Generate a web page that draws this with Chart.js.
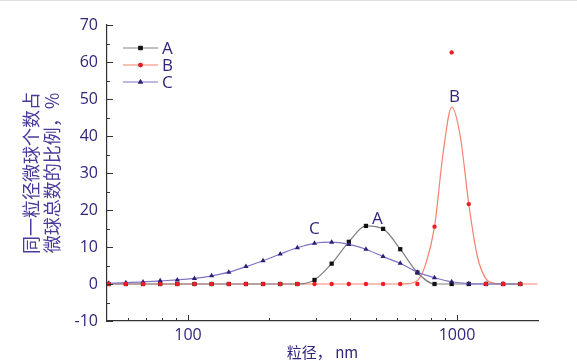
<!DOCTYPE html>
<html><head><meta charset="utf-8">
<script src="https://cdn.jsdelivr.net/npm/chart.js@4/dist/chart.umd.min.js"></script>
<style>html,body{margin:0;padding:0;background:#fff;}#wrap{width:577px;height:361px;}</style>
</head><body><div id="wrap"><canvas id="c" width="577" height="361"></canvas></div>
<script>
// particle size bins (nm)
const sizes = [50.75, 58.77, 68.06, 78.82, 91.28, 105.7, 122.4, 141.8, 164.2, 190.1, 220.2, 255.0, 295.3, 342.0, 396.1, 458.7, 531.2, 615.1, 712.4, 825.0, 955.4, 1106, 1281, 1484, 1718];
const seriesA = [0,0,0,0,0,0,0,0,0,0,0,0, 1.1, 5.5, 11.4, 15.7, 14.9, 9.4, 3.1, 0, 0, 0, 0, 0, 0];
const seriesB = [0,0,0,0,0,0,0,0,0,0,0,0,0,0,0,0,0,0,0, 15.5, 62.6, 21.6, 0, 0, 0];
const seriesC = [0.2, 0.35, 0.55, 0.85, 1.1, 1.5, 2.2, 3.2, 4.7, 6.3, 8.1, 9.8, 11.0, 11.3, 10.7, 9.4, 7.4, 5.6, 3.2, 1.7, 0.6, 0.1, 0, 0, 0];
// smooth fitted curve of B
const fitBX = [50.75, 68.06, 91.28, 122.4, 164.2, 220.2, 295.3, 396.1, 531.2, 615.1, 660, 712.4, 766, 825.0, 888, 955.4, 1028, 1106, 1190, 1281, 1379, 1484, 1718, 1990];
const fitBY = [0, 0, 0, 0, 0, 0, 0, 0, 0, 0, 0.1, 0.9, 5.5, 15.5, 35.4, 47.8, 40.0, 21.6, 7.5, 1.4, 0.2, 0, 0, 0];
const seriesNames = ['A', 'B', 'C'];
const xMajorTicks = [100, 1000];
const xMinorTicks = [60, 70, 80, 90, 200, 300, 400, 500, 600, 700, 800, 900];
const yMinorTicks = [-5, 5, 15, 25, 35, 45, 55, 65];

const TEXT = '#33247c';
const AXIS = '#333333';
const pts = (xs, ys) => xs.map((x, i) => ({x: x, y: ys[i]}));

const bgPlugin = {
  id: 'bg',
  beforeDraw(chart) {
    const ctx = chart.ctx;
    ctx.save();
    ctx.fillStyle = '#ffffff';
    ctx.fillRect(0, 0, chart.width, chart.height);
    ctx.fillStyle = '#dddddd';
    ctx.fillRect(0, 0, chart.width, 1);
    ctx.restore();
  }
};

const tickPlugin = {
  id: 'inTicks',
  afterDraw(chart) {
    const ctx = chart.ctx, xs = chart.scales.x, ys = chart.scales.y;
    const ca = chart.chartArea;
    ctx.save();
    ctx.strokeStyle = AXIS;
    ctx.lineWidth = 1;
    ctx.beginPath();
    ys.ticks.forEach(t => {
      const y = Math.round(ys.getPixelForValue(t.value)) + 0.5;
      ctx.moveTo(ca.left, y); ctx.lineTo(ca.left + 6, y);
    });
    yMinorTicks.forEach(v => {
      const y = Math.round(ys.getPixelForValue(v)) + 0.5;
      ctx.moveTo(ca.left, y); ctx.lineTo(ca.left + 3, y);
    });
    xMajorTicks.forEach(v => {
      const x = Math.round(xs.getPixelForValue(v)) + 0.5;
      ctx.moveTo(x, ca.bottom); ctx.lineTo(x, ca.bottom - 6);
    });
    xMinorTicks.forEach(v => {
      const x = Math.round(xs.getPixelForValue(v)) + 0.5;
      ctx.moveTo(x, ca.bottom); ctx.lineTo(x, ca.bottom - 3);
    });
    ctx.stroke();
    ctx.restore();
  }
};

const legendPlugin = {
  id: 'insideLegend',
  afterDatasetsDraw(chart) {
    const ctx = chart.ctx, ca = chart.chartArea;
    ctx.save();
    seriesNames.forEach((name, i) => {
      const ds = chart.data.datasets.find(d => d.label === name);
      const lineDs = name === 'B' ? chart.data.datasets.find(d => d.label === 'B fit') : ds;
      const y = ca.top + 23 + i * 17;
      const x0 = ca.left + 16, x1 = ca.left + 51;
      ctx.strokeStyle = lineDs.borderColor;
      ctx.lineWidth = 1.2;
      ctx.beginPath(); ctx.moveTo(x0, y); ctx.lineTo(x1, y); ctx.stroke();
      Chart.helpers.drawPoint(ctx, {pointStyle: ds.pointStyle, radius: ds.pointRadius, borderWidth: 0}, (x0 + x1) / 2, y);
      ctx.fillStyle = ds.pointBackgroundColor;
      ctx.fill();
      ctx.fillStyle = TEXT;
      ctx.font = '17px "Open Sans", sans-serif';
      ctx.textBaseline = 'middle';
      ctx.textAlign = 'left';
      ctx.fillText(name, x1 + 4, y + 1);
    });
    ctx.restore();
  }
};

const curveLabelPlugin = {
  id: 'curveLabels',
  afterDatasetsDraw(chart, args, opts) {
    const ctx = chart.ctx, xs = chart.scales.x, ys = chart.scales.y;
    ctx.save();
    ctx.fillStyle = TEXT;
    ctx.font = '17px "Open Sans", sans-serif';
    ctx.textAlign = 'center';
    ctx.textBaseline = 'middle';
    (opts.items || []).forEach(it => {
      ctx.fillText(it.text, xs.getPixelForValue(it.x), ys.getPixelForValue(it.y));
    });
    ctx.restore();
  }
};

new Chart(document.getElementById('c'), {
  type: 'scatter',
  data: {
    datasets: [
      {label: 'B', data: pts(sizes, seriesB), showLine: false, pointStyle: 'circle', pointRadius: 2.2,
       pointBackgroundColor: '#ee1d23', pointBorderWidth: 0, backgroundColor: '#ee1d23', borderColor: '#ee1d23'},
      {label: 'C', data: pts(sizes, seriesC), showLine: true, cubicInterpolationMode: 'monotone',
       borderColor: '#8074c4', borderWidth: 1.2, pointStyle: 'triangle', pointRadius: 3,
       pointBackgroundColor: '#2b1f78', pointBorderWidth: 0, backgroundColor: '#2b1f78'},
      {label: 'A', data: pts(sizes, seriesA), showLine: true, cubicInterpolationMode: 'monotone',
       borderColor: '#808080', borderWidth: 1.2, pointStyle: 'rect', pointRadius: 3,
       pointBackgroundColor: '#111111', pointBorderWidth: 0, backgroundColor: '#111111'},
      {label: 'B fit', data: pts(fitBX, fitBY), showLine: true, cubicInterpolationMode: 'monotone',
       borderColor: '#f5826e', borderWidth: 1.2, pointRadius: 0}
    ]
  },
  options: {
    responsive: false,
    animation: false,
    devicePixelRatio: 1,
    layout: {padding: {left: 0, top: 25, right: 39, bottom: 0}},
    plugins: {
      legend: {display: false},
      tooltip: {enabled: false},
      curveLabels: {items: [
        {text: 'C', x: 295, y: 14.8},
        {text: 'A', x: 506, y: 17.6},
        {text: 'B', x: 979, y: 50.6}
      ]}
    },
    scales: {
      x: {
        type: 'logarithmic', position: 'bottom', min: 50, max: 2000,
        grid: {display: false, drawTicks: false},
        border: {display: true, color: AXIS, width: 1.2},
        afterBuildTicks: s => { s.ticks = xMajorTicks.map(v => ({value: v})); },
        afterFit: s => { s.height = 40; },
        ticks: {color: TEXT, padding: 5, autoSkip: false, maxRotation: 0,
                font: {family: '"Open Sans", sans-serif', size: 16},
                callback: v => String(v)},
        title: {display: true, text: '粒径， nm', color: TEXT, padding: {top: 0, bottom: 0},
                font: {family: '"Noto Sans CJK SC", sans-serif', size: 15}}
      },
      y: {
        type: 'linear', position: 'left', min: -10, max: 70,
        grid: {display: false, drawTicks: false},
        border: {display: true, color: AXIS, width: 1.2},
        afterFit: s => { s.width = 107; },
        ticks: {color: TEXT, padding: 9, stepSize: 10,
                font: {family: '"Open Sans", sans-serif', size: 16}},
        title: {display: true, text: ['同一粒径微球个数占', '微球总数的比例，%'], color: '#4a3a9a',
                padding: {top: 20, bottom: 0},
                font: {family: '"Noto Sans CJK SC", sans-serif', size: 18, lineHeight: 1.2}}
      }
    }
  },
  plugins: [bgPlugin, tickPlugin, legendPlugin, curveLabelPlugin]
});
</script>
</body></html>
